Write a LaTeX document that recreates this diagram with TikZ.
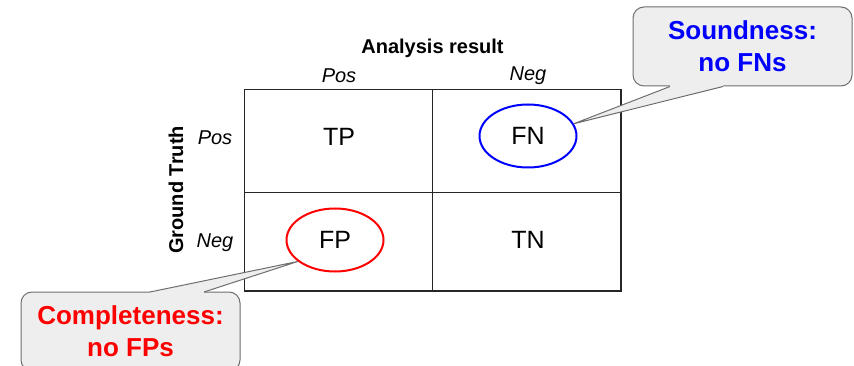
\documentclass[tikz,border=0pt]{standalone}
\usepackage{fontspec}
\setmainfont{Liberation Sans}
\usetikzlibrary{shapes.geometric}
\definecolor{cofill}{HTML}{EEEEEE}
\definecolor{coline}{HTML}{6E6E6E}
\definecolor{myblue}{HTML}{0000FF}
\definecolor{myred}{HTML}{FF0000}
\tikzset{
  gridline/.style={draw=black!85, line width=1.3pt},
  hdr/.style={font=\fontsize{20}{24}\selectfont\bfseries, inner sep=0pt},
  lbl/.style={font=\fontsize{20}{24}\selectfont\itshape, inner sep=0pt},
  celltext/.style={font=\fontsize{25}{30}\selectfont, inner sep=0pt},
  ring/.style={ellipse, draw, line width=2pt, minimum width=97pt, minimum height=63pt, inner sep=0pt, font=\fontsize{25}{30}\selectfont},
  cobox/.style={draw=coline, fill=cofill, line width=1pt, rounded corners=11pt, minimum width=219pt, minimum height=79pt, align=center, font=\fontsize{26}{32}\selectfont\bfseries, inner sep=0pt},
  coptr/.style={draw=coline, line width=1pt},
}
\begin{document}
\begin{tikzpicture}[x=1pt,y=-1pt]
\useasboundingbox (0,0) rectangle (854,366);
% grid
\coordinate (gtl) at (244.5,89.5);
\coordinate (gbr) at (621,291);
\coordinate (vt) at (432.5,89.5);
\coordinate (vb) at (432.5,291);
\coordinate (hl) at (244.5,192.5);
\coordinate (hr) at (621,192.5);
\draw[gridline] (gtl) rectangle (gbr);
\draw[gridline] (vt) -- (vb);
\draw[gridline] (hl) -- (hr);
% headers
\node[hdr] (ar) at (432.5,48) {Analysis result};
\node[lbl] (cpos) at (339,76) {Pos};
\node[lbl] (cneg) at (528,76) {Neg};
\node[hdr, rotate=90] (gt) at (176,190) {Ground Truth};
\node[lbl] (rpos) at (215,138) {Pos};
\node[lbl] (rneg) at (215,243) {Neg};
% cells
\node[celltext] (tp) at (339,137) {TP};
\node[celltext] (tn) at (528,240) {TN};
\node[ring, draw=myblue] (fn) at (528,136) {FN};
\node[ring, draw=myred] (fp) at (335,240) {FP};
% soundness callout
\node[cobox, text=myblue] (snd) at (742.5,46.5) {Soundness:\\no FNs};
\coordinate (sa) at (670,86.5);
\coordinate (sb) at (723,86.5);
\fill[cofill] (670,84) -- (sa) -- (fn.15) -- (sb) -- (723,84) -- cycle;
\draw[coptr] (sa) -- (fn.15) -- (sb);
% completeness callout
\node[cobox, text=myred] (cmp) at (130.5,331.5) {Completeness:\\no FPs};
\coordinate (ca) at (150,292);
\coordinate (cb) at (204,292);
\fill[cofill] (150,294.5) -- (ca) -- (fp.210) -- (cb) -- (204,294.5) -- cycle;
\draw[coptr] (ca) -- (fp.210) -- (cb);
\end{tikzpicture}
\end{document}
